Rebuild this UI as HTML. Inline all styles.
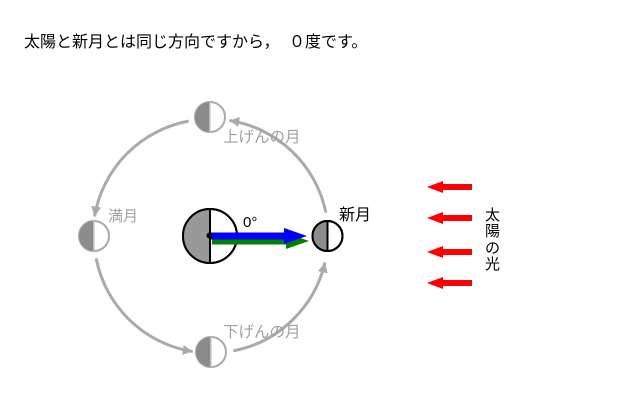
<!DOCTYPE html>
<html><head><meta charset="utf-8">
<style>
html,body{margin:0;padding:0;background:#fff;}
svg{display:block;}
text{font-family:"Liberation Sans","Noto Sans CJK JP",sans-serif;}
</style></head>
<body>
<svg width="624" height="400" viewBox="0 0 624 400" xmlns="http://www.w3.org/2000/svg">
<defs>
<marker id="ah" markerUnits="userSpaceOnUse" markerWidth="12" markerHeight="12" refX="10" refY="5" orient="auto">
<path d="M0,0 L10,5 L0,10 z" fill="#aaaaaa"/>
</marker>
</defs>
<rect width="624" height="400" fill="#fff"/>
<text x="24" y="47" font-size="16" fill="#000">太陽と新月とは同じ方向ですから，</text>
<text x="289" y="47" font-size="16" fill="#000">０度です。</text>

<!-- orbit arcs -->
<g fill="none" stroke="#aaaaaa" stroke-width="3" marker-end="url(#ah)">
<path d="M325.85,212.5 A117,117 0 0 0 229.3,120.44"/>
<path d="M188.68,121.15 A117,117 0 0 0 94.5,216.5"/>
<path d="M96.15,258.32 A117,117 0 0 0 192.7,351.56"/>
<path d="M233.32,350.85 A117,117 0 0 0 325.0,262.5"/>
</g>

<!-- gray moons -->
<g>
<circle cx="210" cy="117" r="15" fill="#fff" stroke="#aaaaaa" stroke-width="2"/>
<path d="M210,102 A15,15 0 0 0 210,132 z" fill="#8c8c8c"/>
<line x1="210" y1="102" x2="210" y2="132" stroke="#cccccc" stroke-width="1.5"/>

<circle cx="94" cy="236" r="15" fill="#fff" stroke="#aaaaaa" stroke-width="2"/>
<path d="M94,221 A15,15 0 0 0 94,251 z" fill="#8c8c8c"/>
<line x1="94" y1="221" x2="94" y2="251" stroke="#cccccc" stroke-width="1.5"/>

<circle cx="211" cy="352" r="15" fill="#fff" stroke="#aaaaaa" stroke-width="2"/>
<path d="M211,337 A15,15 0 0 0 211,367 z" fill="#8c8c8c"/>
<line x1="211" y1="337" x2="211" y2="367" stroke="#cccccc" stroke-width="1.5"/>
</g>

<text x="223" y="142" font-size="15.5" fill="#a0a0a0">上げんの月</text>
<text x="108" y="221" font-size="15" fill="#a0a0a0">満月</text>
<text x="223" y="337" font-size="15.5" fill="#a0a0a0">下げんの月</text>

<!-- earth -->
<circle cx="210" cy="236" r="27" fill="#fff" stroke="#000" stroke-width="2"/>
<path d="M210,209 A27,27 0 0 0 210,263 z" fill="#999999"/>
<circle cx="210" cy="236" r="27" fill="none" stroke="#000" stroke-width="2"/>
<line x1="210" y1="209" x2="210" y2="263" stroke="#000" stroke-width="2"/>

<!-- arrows -->
<polygon points="212,237.5 286,237.5 286,233 309,241 286,249 286,244.5 212,244.5" fill="#008000"/>
<polygon points="211,232.5 284,232.5 284,228 307,236 284,244 284,239.5 211,239.5" fill="#0000ff"/>
<circle cx="209.5" cy="235.5" r="3" fill="#000"/>

<text x="243" y="227" font-size="15" fill="#000">0°</text>

<!-- new moon -->
<circle cx="327.5" cy="236" r="15" fill="#fff" stroke="#000" stroke-width="2"/>
<path d="M327.5,221 A15,15 0 0 0 327.5,251 z" fill="#8c8c8c"/>
<circle cx="327.5" cy="236" r="15" fill="none" stroke="#000" stroke-width="2"/>
<line x1="327.5" y1="221" x2="327.5" y2="251" stroke="#000" stroke-width="2"/>
<text x="339" y="220" font-size="16" fill="#000">新月</text>

<!-- sun rays -->
<g fill="#ff0000">
<polygon points="427,187 443,181 443,184 472,184 472,190 443,190 443,193"/>
<polygon points="427,218 443,212 443,215 472,215 472,221 443,221 443,224"/>
<polygon points="427,252 443,246 443,249 472,249 472,255 443,255 443,258"/>
<polygon points="427,283 443,277 443,280 472,280 472,286 443,286 443,289"/>
</g>
<g font-size="15" fill="#000">
<text x="485" y="220">太</text>
<text x="485" y="236">陽</text>
<text x="485" y="253">の</text>
<text x="485" y="269">光</text>
</g>
</svg>
</body></html>
